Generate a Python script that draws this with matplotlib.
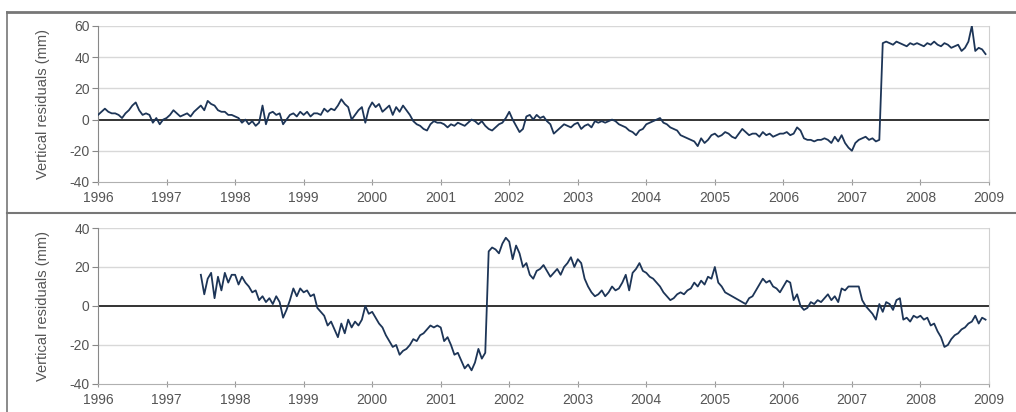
import numpy as np
import matplotlib
matplotlib.use("Agg")
import matplotlib.pyplot as plt
from matplotlib.lines import Line2D

plt.rcParams['font.family'] = ['Liberation Sans', 'DejaVu Sans']
plt.rcParams['axes.unicode_minus'] = False

top_start = 1996.0
top_vals = [
    3, 5, 7, 5, 4, 4, 3, 1, 4, 6, 9, 11, 6, 3, 4, 3, -2, 1, -3, 0,            # 1996
    1, 3, 6, 4, 2, 3, 4, 2, 5, 7, 9, 6, 12, 10, 9, 6, 5, 5, 3, 3,             # 1997
    2, 1, -2, 0, -3, -1, -4, -2, 9, -3, 4, 5, 3, 4, -3, 0, 3, 4, 2, 5,        # 1998
    3, 5, 2, 4, 4, 3, 7, 5, 7, 6, 9, 13, 10, 8, 0, 3, 6, 8, -2, 7,            # 1999
    11, 8, 10, 5, 7, 9, 3, 8, 5, 9, 6, 3, -1, -3, -4, -6, -7, -3, -1, -2,     # 2000
    -2, -3, -5, -3, -4, -2, -3, -4, -2, 0, -1, -3, -1, -4, -6, -7, -5, -3, -2, 1,  # 2001
    5, 0, -4, -8, -6, 2, 3, 0, 3, 1, 2, -1, -3, -9, -7, -5, -3, -4, -5, -3,   # 2002
    -2, -6, -4, -3, -5, -1, -2, -1, -2, -1, 0, -1, -3, -4, -5, -7, -8, -10, -7, -6,  # 2003
    -3, -2, -1, 0, 1, -2, -3, -5, -6, -7, -10, -11, -12, -13, -14, -17, -12, -15, -13, -10,  # 2004
    -9, -11, -10, -8, -9, -11, -12, -9, -6, -8, -10, -9, -9, -11, -8, -10, -9, -11, -10, -9,  # 2005
    -9, -8, -10, -9, -5, -7, -12, -13, -13, -14, -13, -13, -12, -13, -15, -11, -14, -10, -15, -18,  # 2006
    -20, -15, -13, -12, -11, -13, -12, -14, -13, 49, 50, 49, 48, 50, 49, 48, 47, 49, 48, 49,  # 2007
    48, 47, 49, 48, 50, 48, 47, 49, 48, 46, 47, 48, 44, 46, 50, 60, 44, 46, 45, 42,  # 2008
]

bot_start = 1997.5
bot_vals = [
    16, 6, 14, 17, 4, 15, 8, 17, 12, 16,                                      # 1997.5
    16, 11, 15, 12, 10, 7, 8, 3, 5, 2, 4, 1, 5, 2, -6, -2, 3, 9, 5, 9,        # 1998
    7, 8, 5, 6, -1, -3, -5, -10, -8, -12, -16, -9, -14, -7, -11, -8, -10, -7, 0, -4,  # 1999
    -3, -6, -9, -11, -15, -18, -21, -20, -25, -23, -22, -20, -17, -18, -15, -14, -12, -10, -11, -10,  # 2000
    -11, -18, -16, -20, -25, -24, -28, -32, -30, -33, -29, -22, -27, -24, 28, 30, 29, 27, 32, 35,  # 2001
    33, 24, 31, 27, 20, 22, 16, 14, 18, 19, 21, 18, 15, 17, 19, 16, 20, 22, 25, 20,  # 2002
    24, 22, 14, 10, 7, 5, 6, 8, 5, 7, 10, 8, 9, 12, 16, 8, 17, 19, 22, 18,    # 2003
    17, 15, 14, 12, 10, 7, 5, 3, 4, 6, 7, 6, 8, 9, 12, 10, 13, 11, 15, 14,    # 2004
    20, 12, 10, 7, 6, 5, 4, 3, 2, 1, 4, 5, 8, 11, 14, 12, 13, 10, 9, 7,       # 2005
    10, 13, 12, 3, 6, 0, -2, -1, 2, 1, 3, 2, 4, 6, 3, 5, 2, 9, 8, 10,         # 2006
    10, 10, 10, 3, 0, -2, -4, -7, 1, -3, 2, 1, -2, 3, 4, -7, -6, -8, -5, -6,  # 2007
    -5, -7, -6, -10, -9, -13, -16, -21, -20, -17, -15, -14, -12, -11, -9, -8, -5, -9, -6, -7,  # 2008
]

step = 0.05
top_t = top_start + step * np.arange(len(top_vals))
bot_t = bot_start + step * np.arange(len(bot_vals))

years = list(range(1996, 2010))
top_ticks = [-40, -20, 0, 20, 40, 60]
bot_ticks = [-40, -20, 0, 20, 40]

line_c = '#1d3557'
txt_c = '#555555'

fig = plt.figure(figsize=(10.16, 4.12), dpi=100)
ax1 = fig.add_axes([0.0965, 0.5583, 0.8769, 0.3786])
ax2 = fig.add_axes([0.0965, 0.0680, 0.8769, 0.3786])


def style(ax, ticks):
    ax.set_xlim(1996, 2009)
    ax.set_ylim(ticks[0], ticks[-1])
    ax.set_yticks(ticks)
    ax.set_xticks(years)
    ax.set_xticklabels([str(y) for y in years])
    for v in ticks[1:]:
        if v != 0:
            ax.axhline(v, color='#d8d8d8', lw=1.0, zorder=1)
    ax.axhline(0, color='#333333', lw=1.4, zorder=2)
    ax.spines['top'].set_visible(False)
    ax.spines['right'].set_color('#d0d0d0')
    ax.spines['bottom'].set_color('#b0b0b0')
    ax.spines['left'].set_color('#888888')
    ax.tick_params(axis='y', direction='out', length=4, color='#888888',
                   labelsize=10, labelcolor=txt_c, pad=2)
    ax.tick_params(axis='x', direction='inout', length=5, color='#999999',
                   labelsize=10, labelcolor=txt_c, pad=4)
    ax.set_ylabel('Vertical residuals (mm)', fontsize=10.5, color=txt_c, labelpad=14)


style(ax1, top_ticks)
style(ax2, bot_ticks)

ax1.plot(top_t, top_vals, color=line_c, lw=1.3, zorder=3)
ax2.plot(bot_t, bot_vals, color=line_c, lw=1.3, zorder=3)

# frame lines around the two panels
frame = '#777777'
fig.add_artist(Line2D([0.007, 1.0], [0.971, 0.971], color=frame, lw=2.0))
fig.add_artist(Line2D([0.007, 0.007], [0.0, 0.971], color=frame, lw=1.2))
fig.add_artist(Line2D([0.007, 1.0], [0.483, 0.483], color=frame, lw=1.5))

fig.savefig('out.png', dpi=100, facecolor='white')
